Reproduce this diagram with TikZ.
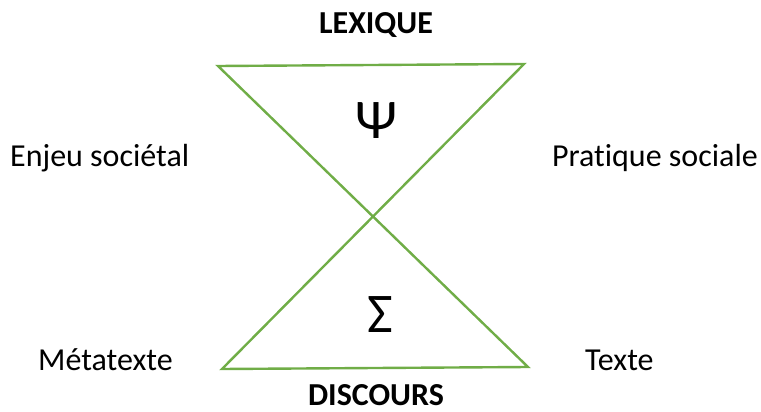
\documentclass[tikz,border=0pt]{standalone}
\usepackage{fontspec}
\setmainfont{Carlito}[Ligatures=NoCommon]
\usepackage{xcolor}
\definecolor{leafGreen}{RGB}{112,173,71}
\tikzset{
  lbl/.style={font=\fontsize{32}{36}\selectfont,inner sep=0pt},
  pole/.style={font=\fontsize{32}{36}\selectfont\bfseries,inner sep=0pt},
  sym/.style={font=\fontsize{56}{60}\selectfont,inner sep=0pt}
}

\begin{document}
\begin{tikzpicture}[x=1pt,y=-1pt]
\useasboundingbox (0,0) rectangle (761,412);
% the two triangles
\coordinate (tl) at (218,66);
\coordinate (tr) at (524,64);
\coordinate (bl) at (222,369);
\coordinate (br) at (528,367);
\draw[leafGreen,line width=2.4pt,line join=miter] (tl) -- (tr) -- (bl) -- (br) -- cycle;
\node[sym] (psi) at (376,121) {Ψ};
\node[sym] (sigma) at (380,315) {Σ};
\node[pole] (lex) at (376,25) {LEXIQUE};
\node[pole] (disc) at (376,395) {DISCOURS};
\node[lbl,anchor=west] (enjeu) at (10,158) {Enjeu sociétal};
\node[lbl,anchor=east] (prat) at (758,158) {Pratique sociale};
\node[lbl,anchor=west] (meta) at (38,360) {Métatexte};
\node[lbl,anchor=west] (texte) at (585,360) {Texte};
\end{tikzpicture}
\end{document}
